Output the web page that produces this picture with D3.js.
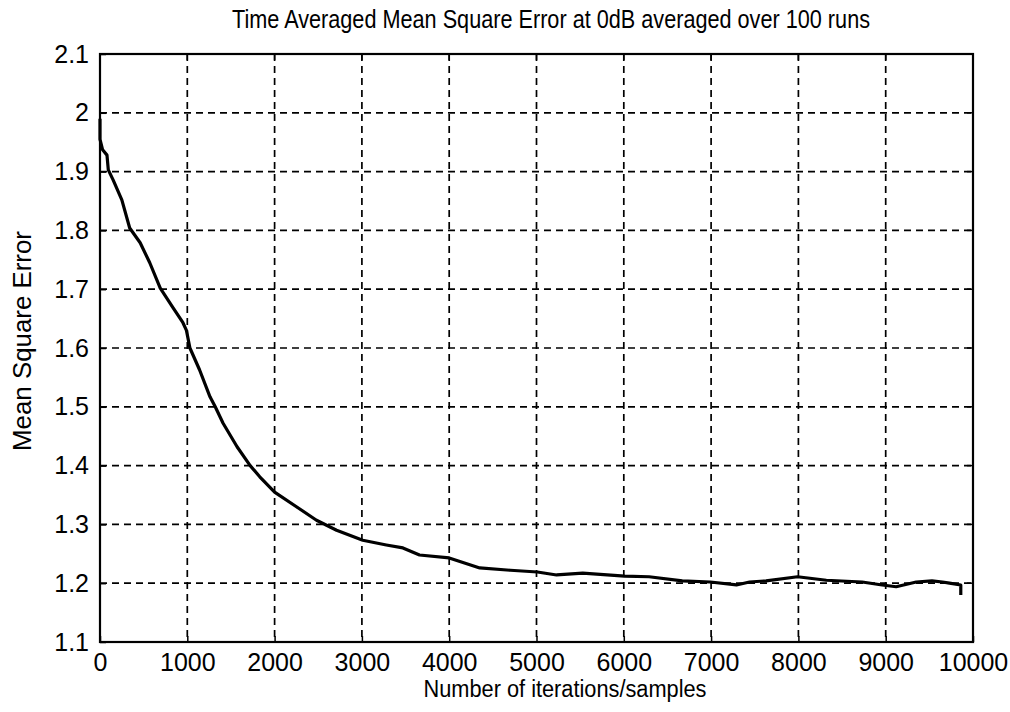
<!DOCTYPE html>
<html>
<head>
<meta charset="utf-8">
<script src="https://cdn.jsdelivr.net/npm/d3@7"></script>
<style>
  html, body { margin: 0; padding: 0; background: #fff; }
  svg { display: block; }
  text { font-family: "Liberation Sans", Arial, Helvetica, sans-serif; fill: #000; }
</style>
</head>
<body>
<svg id="chart" width="1010" height="712"></svg>
<script>
// Iteration index of each sampled point on the learning curve
const iterations = [0, 0, 30, 80, 95, 150, 250, 340, 460, 570, 690, 830, 950, 990, 1030,
  1140, 1260, 1320, 1410, 1570, 1720, 1830, 2000, 2250, 2480, 2710, 3010, 3280, 3470,
  3660, 4000, 4350, 4700, 5010, 5230, 5530, 6010, 6290, 6670, 6990, 7290, 7440, 7630,
  7990, 8320, 8730, 8960, 9120, 9350, 9530, 9650, 9730, 9860, 9860];
// Time averaged mean square error at those iterations
const mse = [1.99, 1.955, 1.937, 1.928, 1.903, 1.886, 1.852, 1.804, 1.779, 1.745, 1.702,
  1.670, 1.643, 1.630, 1.600, 1.563, 1.517, 1.500, 1.472, 1.432, 1.400, 1.381, 1.355,
  1.330, 1.307, 1.290, 1.273, 1.265, 1.260, 1.248, 1.243, 1.226, 1.222, 1.219, 1.214,
  1.217, 1.212, 1.211, 1.204, 1.202, 1.197, 1.202, 1.204, 1.211, 1.205, 1.202, 1.197,
  1.194, 1.202, 1.204, 1.202, 1.200, 1.197, 1.18];

const xTicks = [0, 1000, 2000, 3000, 4000, 5000, 6000, 7000, 8000, 9000, 10000];
const yTicks = [1.1, 1.2, 1.3, 1.4, 1.5, 1.6, 1.7, 1.8, 1.9, 2.0, 2.1];

const titleText = "Time Averaged Mean Square Error at 0dB averaged over 100 runs";
const xLabelText = "Number of iterations/samples";
const yLabelText = "Mean Square Error";

const svg = d3.select("#chart");
const plotLeft = 100, plotTop = 54, plotRight = 973, plotBottom = 642;

const x = d3.scaleLinear().domain([0, 10000]).range([plotLeft, plotRight]);
const y = d3.scaleLinear().domain([1.1, 2.1]).range([plotBottom, plotTop]);

// dashed grid
const grid = svg.append("g")
  .attr("stroke", "#000")
  .attr("stroke-width", 1.7)
  .attr("stroke-dasharray", "7,5");
grid.selectAll("line.v").data(xTicks.slice(1, -1)).join("line")
  .attr("class", "v")
  .attr("x1", d => x(d)).attr("x2", d => x(d))
  .attr("y1", plotTop).attr("y2", plotBottom);
grid.selectAll("line.h").data(yTicks.slice(1, -1)).join("line")
  .attr("class", "h")
  .attr("x1", plotLeft).attr("x2", plotRight)
  .attr("y1", d => y(d)).attr("y2", d => y(d));

// axes with inward ticks
const xAxis = svg.append("g")
  .attr("transform", `translate(0,${plotBottom})`)
  .call(d3.axisBottom(x).tickValues(xTicks).tickSizeInner(-6).tickSizeOuter(0)
    .tickPadding(11).tickFormat(d3.format("d")));
const yAxis = svg.append("g")
  .attr("transform", `translate(${plotLeft},0)`)
  .call(d3.axisLeft(y).tickValues(yTicks).tickSizeInner(-6).tickSizeOuter(0)
    .tickPadding(11).tickFormat(d => Math.abs(d - 2) < 1e-9 ? "2" : d3.format(".1f")(d)));

[xAxis, yAxis].forEach(g => {
  g.select(".domain").remove();
  g.selectAll(".tick line").attr("stroke", "#000").attr("stroke-width", 1.5);
  g.selectAll(".tick text")
    .attr("font-family", "'Liberation Sans', Arial, sans-serif")
    .attr("font-size", 25)
    .attr("fill", "#000");
});
xAxis.selectAll(".tick text").attr("dy", "0.71em");

// top and right ticks for the boxed frame
const boxTicks = svg.append("g").attr("stroke", "#000").attr("stroke-width", 1.5);
boxTicks.selectAll("line.t").data(xTicks).join("line")
  .attr("x1", d => x(d)).attr("x2", d => x(d)).attr("y1", plotTop).attr("y2", plotTop + 6);
boxTicks.selectAll("line.r").data(yTicks).join("line")
  .attr("x1", plotRight - 6).attr("x2", plotRight).attr("y1", d => y(d)).attr("y2", d => y(d));

// frame
svg.append("rect")
  .attr("x", plotLeft).attr("y", plotTop)
  .attr("width", plotRight - plotLeft).attr("height", plotBottom - plotTop)
  .attr("fill", "none").attr("stroke", "#000").attr("stroke-width", 2.2);

// learning curve
const pts = iterations.map((it, i) => [it, mse[i]]);
svg.append("path")
  .datum(pts)
  .attr("fill", "none")
  .attr("stroke", "#000")
  .attr("stroke-width", 3.2)
  .attr("stroke-linejoin", "round")
  .attr("d", d3.line().x(d => x(d[0])).y(d => y(d[1])));

// title and axis labels
svg.append("text")
  .attr("x", 551).attr("y", 28)
  .attr("text-anchor", "middle")
  .attr("font-size", 26)
  .attr("textLength", 638).attr("lengthAdjust", "spacingAndGlyphs")
  .text(titleText);

svg.append("text")
  .attr("x", 565).attr("y", 697)
  .attr("text-anchor", "middle")
  .attr("font-size", 23)
  .attr("textLength", 283).attr("lengthAdjust", "spacingAndGlyphs")
  .text(xLabelText);

svg.append("text")
  .attr("transform", `translate(31,341) rotate(-90)`)
  .attr("text-anchor", "middle")
  .attr("font-size", 25)
  .attr("textLength", 220).attr("lengthAdjust", "spacingAndGlyphs")
  .text(yLabelText);
</script>
</body>
</html>
